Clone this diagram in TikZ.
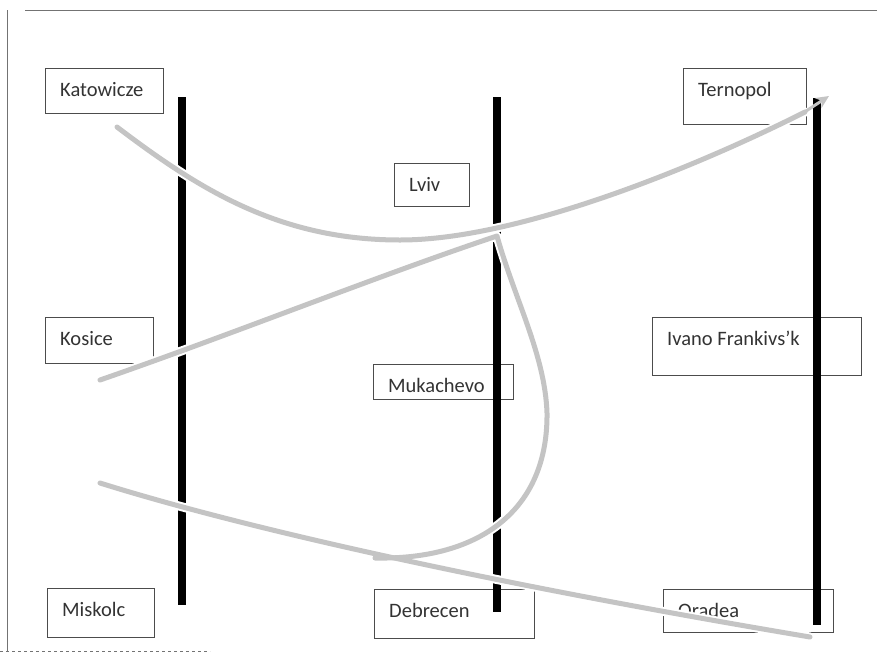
\documentclass[tikz,border=0pt]{standalone}
\usepackage{fontspec}
\setmainfont{Carlito}
\usetikzlibrary{arrows.meta}

\tikzset{
  cityframe/.style={draw=black!70, line width=0.8pt, fill=white, rectangle, inner sep=0pt},
  citytext/.style={font=\fontsize{20.5}{24}\selectfont, text=black!80, anchor=base west, inner sep=0pt},
  railbar/.style={line width=8pt, black, line cap=butt},
  routehalo/.style={white, line width=9pt, line cap=round},
  route/.style={line width=5pt, black!23, line cap=round},
  sheetedge/.style={black!55, line width=0.7pt},
}

% a framed city box with its name set near the top left corner
\newcommand\cityBox[6]{%
  \node[cityframe, anchor=north west, minimum width=#4pt, minimum height=#5pt] (#1) at (#2,#3) {};
  \node[citytext] (#1-label) at ([xshift=15pt,yshift=-28pt]#1.north west) {#6};
}

\begin{document}
\begin{tikzpicture}[x=1pt, y=-1pt]
  \useasboundingbox (0,0) rectangle (877,654);

  % sheet edges
  \draw[sheetedge] (25,10) -- (877,10);
  \draw[sheetedge] (7,10) -- (7,652);
  \draw[sheetedge, dashed] (0,651) -- (210,651);

  % cities
  \cityBox{kat}{45}{68}{118}{45}{Katowicze}
  \cityBox{kos}{45}{317}{108}{46}{Kosice}
  \cityBox{mis}{47}{588}{107}{49}{Miskolc}
  \cityBox{lviv}{394}{163}{75}{43}{Lviv}
  \cityBox{muk}{373}{364}{140}{35}{Mukachevo}
  \cityBox{deb}{374}{589}{160}{49}{Debrecen}
  \cityBox{ter}{683}{68}{123}{56}{Ternopol}
  \cityBox{iva}{652}{317}{209}{58}{Ivano Frankivs’k}
  \cityBox{ora}{663}{589}{170}{43}{Oradea}

  % vertical bars
  \coordinate (barL-top) at (182,97);  \coordinate (barL-bot) at (182,605);
  \coordinate (barM-top) at (497,97);  \coordinate (barM-bot) at (497,612);
  \coordinate (barR-top) at (817,98);  \coordinate (barR-bot) at (817,625);
  \draw[railbar] (barL-top) -- (barL-bot);
  \draw[railbar] (barM-top) -- (barM-bot);
  \draw[railbar] (barR-top) -- (barR-bot);

  % route end points
  \coordinate (katout) at (117,127);
  \coordinate (terin)  at (829,96);
  \coordinate (kosout) at (100,380);
  \coordinate (lvivjoin) at (497,236);
  \coordinate (debin)  at (375,558);
  \coordinate (misout) at (100,483);
  \coordinate (oraend) at (810,637);

  % routes: a white halo first, then the grey stroke
  \foreach \lay in {routehalo, route} {
    \draw[\lay] (katout) .. controls (200,190) and (280,240) .. (400,240)
                         .. controls (520,240) and (700,165) .. (805,112);
    \draw[\lay, line join=round] (kosout) .. controls (230,335) and (380,275) .. (lvivjoin)
                         .. controls (515,300) and (545,355) .. (547,413)
                         .. controls (548,510) and (480,560) .. (debin);
    \draw[\lay] (misout) .. controls (250,530) and (500,585) .. (oraend);
  }
  % arrow tip at Ternopol
  \draw[route, line width=3pt, line cap=butt, -{Stealth[length=13pt, width=12pt]}]
    (800,115) -- (terin);
\end{tikzpicture}
\end{document}
